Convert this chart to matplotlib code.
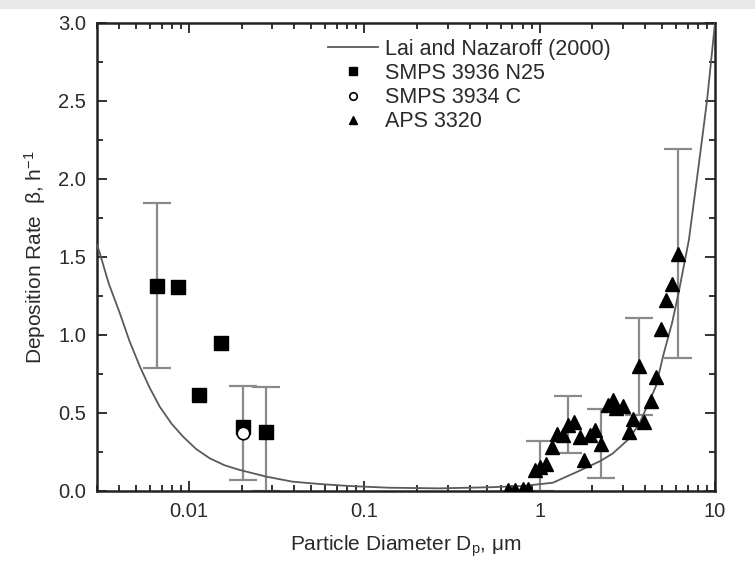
import matplotlib
matplotlib.use("Agg")
import matplotlib.pyplot as plt
from matplotlib.patches import Rectangle
from matplotlib.ticker import FixedLocator, LogLocator, NullFormatter, MultipleLocator

plt.rcParams['font.family'] = ['Liberation Sans', 'DejaVu Sans']
plt.rcParams['mathtext.fontset'] = 'custom'
plt.rcParams['mathtext.rm'] = 'Liberation Sans'
plt.rcParams['mathtext.it'] = 'Liberation Sans:italic'

# Lai and Nazaroff (2000) model curve
curve_x = [0.003, 0.00312, 0.0035, 0.00405, 0.0046, 0.00527, 0.006, 0.00684, 0.008,
           0.00929, 0.011, 0.01315, 0.016, 0.0195, 0.0277, 0.039, 0.0555, 0.082,
           0.139, 0.267, 0.52, 0.80, 1.19, 1.69, 2.2, 2.61, 3.2, 3.7, 4.6, 5.1,
           5.7, 6.2, 7.1, 8.1, 9.0, 10.0]
curve_y = [1.58, 1.52, 1.33, 1.139, 0.96, 0.797, 0.66, 0.54, 0.43,
           0.348, 0.27, 0.21, 0.165, 0.135, 0.092, 0.06, 0.045, 0.032,
           0.021, 0.017, 0.024, 0.032, 0.053, 0.13, 0.19, 0.24, 0.33, 0.43, 0.67, 0.88,
           1.08, 1.27, 1.61, 2.1, 2.5, 3.0]

# SMPS 3936 N25
smps_x = [0.00656, 0.0087, 0.01145, 0.01535, 0.0205, 0.0274]
smps_y = [1.314, 1.306, 0.615, 0.947, 0.412, 0.376]

# SMPS 3934 C
smpsc_x = [0.0203]
smpsc_y = [0.37]

# APS 3320
aps_x = [0.66, 0.72, 0.80, 0.86, 0.937, 1.0, 1.09, 1.18, 1.26, 1.356, 1.45, 1.58,
         1.69, 1.80, 1.95, 2.08, 2.24, 2.44, 2.61, 2.73, 3.0, 3.22, 3.43, 3.70,
         3.95, 4.31, 4.60, 4.91, 5.29, 5.67, 6.14]
aps_y = [0.005, 0.008, 0.01, 0.012, 0.135, 0.152, 0.173, 0.28, 0.365, 0.359, 0.423, 0.444,
         0.344, 0.199, 0.359, 0.391, 0.301, 0.551, 0.583, 0.53, 0.545, 0.38, 0.459, 0.80,
         0.44, 0.579, 0.733, 1.037, 1.224, 1.327, 1.52]

# error bars: x, centre, lower end, upper end
err_x = [0.00656, 0.0203, 0.0274, 1.0, 1.45, 2.24, 3.70, 6.14]
err_y = [1.314, 0.37, 0.376, 0.152, 0.423, 0.301, 0.80, 1.52]
err_lo = [0.786, 0.07, 0.0, 0.0, 0.242, 0.081, 0.49, 0.85]
err_hi = [1.844, 0.67, 0.665, 0.32, 0.609, 0.523, 1.111, 2.19]

fig = plt.figure(figsize=(7.55, 5.67), dpi=100)
fig.patches.append(Rectangle((0, 1 - 9 / 567), 1, 9 / 567, transform=fig.transFigure,
                             facecolor='#e8e8e8', edgecolor='none'))
ax = fig.add_axes([97 / 755, 1 - 491 / 567, 618 / 755, 468 / 567])

ax.errorbar(err_x, err_y,
            yerr=[[c - l for c, l in zip(err_y, err_lo)], [h - c for c, h in zip(err_y, err_hi)]],
            fmt='none', ecolor='#8a8a8a', elinewidth=1.6, capsize=10, capthick=1.6, zorder=2)
ax.plot(curve_x, curve_y, color='#5a5a5a', lw=1.3, label='Lai and Nazaroff (2000)', zorder=3)
ax.plot(smps_x, smps_y, 's', color='black', ms=9.5, label='SMPS 3936 N25', zorder=4)
ax.plot(smpsc_x, smpsc_y, 'o', mfc='white', mec='black', mew=1.2, ms=9,
        label='SMPS 3934 C', zorder=5)
ax.plot(aps_x, aps_y, '^', color='black', ms=10.5, label='APS 3320', zorder=4)

ax.set_xscale('log')
ax.set_xlim(0.003, 10)
ax.set_ylim(0, 3.0)
ax.xaxis.set_major_locator(FixedLocator([0.01, 0.1, 1, 10]))
ax.xaxis.set_minor_locator(LogLocator(base=10, subs=range(2, 10)))
ax.xaxis.set_minor_formatter(NullFormatter())
ax.set_xticklabels(['0.01', '0.1', '1', '10'])
ax.yaxis.set_major_locator(MultipleLocator(0.5))
ax.yaxis.set_minor_locator(MultipleLocator(0.25))
ax.set_yticklabels(['%.1f' % v for v in ax.get_yticks()])

ax.tick_params(which='both', direction='in', top=True, right=True, width=1.3, colors='#222222',
               labelsize=14.5, labelcolor='#2a2a2a')
ax.tick_params(which='major', length=7, pad=8)
ax.tick_params(which='minor', length=4)
for s in ax.spines.values():
    s.set_linewidth(1.8)
    s.set_color('#222222')

ax.set_xlabel('Particle Diameter D$_\\mathrm{p}$, \u03bcm', fontsize=15, color='#2a2a2a',
              labelpad=9)
ax.set_ylabel('Deposition Rate  \u03b2, h$^{-1}$', fontsize=15, color='#2a2a2a', labelpad=7)

leg = ax.legend(loc='upper left', bbox_to_anchor=(0.36, 0.985), frameon=False, fontsize=15.5,
                handlelength=2.3, handletextpad=0.35, labelspacing=0.15, markerscale=0.6,
                borderaxespad=0)
for t in leg.get_texts():
    t.set_color('#2a2a2a')

fig.savefig('out.png', dpi=100)
